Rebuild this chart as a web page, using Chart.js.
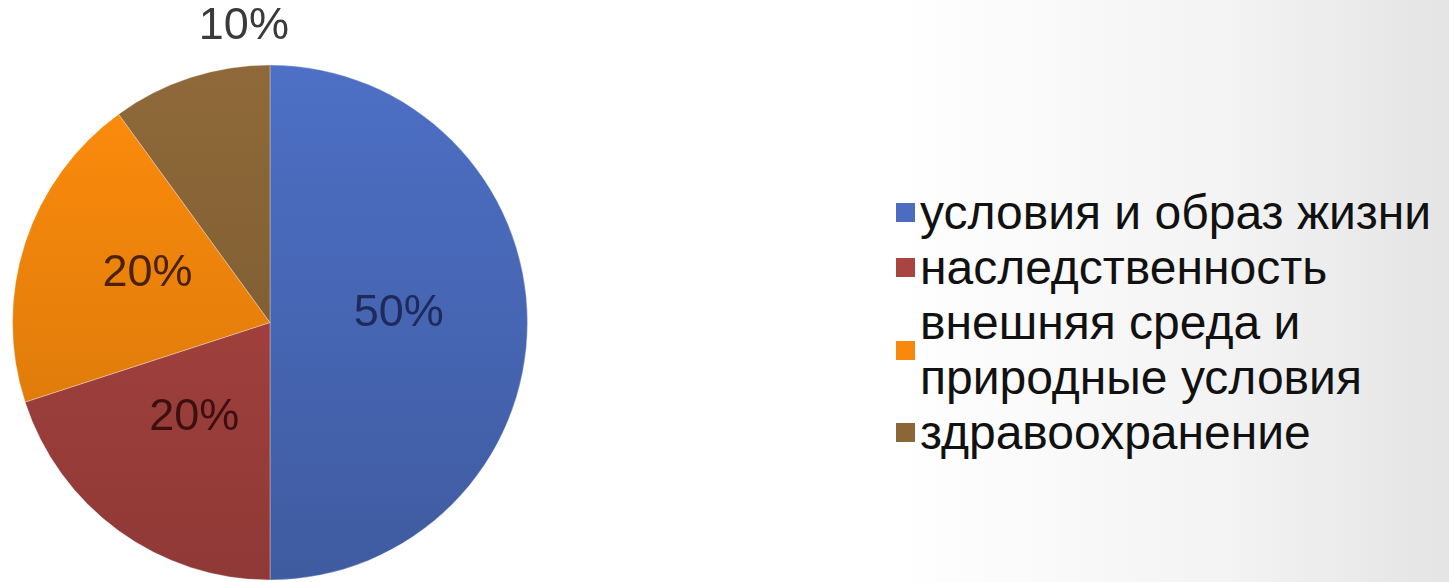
<!DOCTYPE html>
<html>
<head>
<meta charset="utf-8">
<script src="https://cdn.jsdelivr.net/npm/chart.js@4"></script>
<style>
  html, body { margin: 0; padding: 0; }
  body {
    width: 1449px; height: 582px; overflow: hidden; position: relative;
    background: linear-gradient(to right, #ffffff 0%, #ffffff 62%, #f3f3f3 85%, #e4e4e4 100%);
    font-family: 'Liberation Sans', Arial, sans-serif;
  }
  #pieWrap { position: absolute; left: 0; top: 0; width: 540px; height: 582px; }
  #legend { position: absolute; left: 896px; top: 185px; margin: 0; padding: 0; list-style: none; }
  #legend li { display: flex; align-items: center; }
  #legend .box { width: 19px; height: 19px; margin-right: 5px; flex: none; }
  #legend .txt { font-size: 48px; line-height: 55px; color: #111; width: 540px; }
</style>
</head>
<body>
<div id="pieWrap"><canvas id="pie" width="540" height="582"></canvas></div>
<ul id="legend"></ul>
<script>
        // Data
        const categories = ['условия и образ жизни', 'наследственность', 'внешняя среда и природные условия', 'здравоохранение'];
        const shares = [50, 20, 20, 10];
        const sliceColors = ['#4b6cbf', '#aa4440', '#f8890c', '#8b6637'];
        const labelColors = ['#1e2b5a', '#3c1010', '#4a2200', '#3a3a3a'];

        // slightly darker toward the bottom, like the original shading
        const shade = (hex, k) => {
            const n = parseInt(hex.slice(1), 16);
            const r = Math.round(((n >> 16) & 255) * k);
            const g = Math.round(((n >> 8) & 255) * k);
            const b = Math.round((n & 255) * k);
            return `rgb(${r},${g},${b})`;
        };
        const sliceFill = (context) => {
            const chart = context.chart;
            const area = chart.chartArea;
            const base = sliceColors[context.dataIndex];
            if (!area) return base;
            const g = chart.ctx.createLinearGradient(0, area.top, 0, area.bottom);
            g.addColorStop(0, shade(base, 1.03));
            g.addColorStop(1, shade(base, 0.84));
            return g;
        };

        // Percent labels drawn on / beside each slice
        const percentLabels = {
            id: 'percentLabels',
            afterDatasetsDraw(chart) {
                const ctx = chart.ctx;
                const meta = chart.getDatasetMeta(0);
                ctx.save();
                ctx.font = '45px "Liberation Sans", Arial, sans-serif';
                ctx.textAlign = 'center';
                ctx.textBaseline = 'middle';
                meta.data.forEach((arc, i) => {
                    const value = shares[i];
                    let x, y;
                    if (value >= 15) {
                        const p = arc.tooltipPosition();
                        x = p.x;
                        y = p.y - 9;
                    } else {
                        // small slice: label outside, near the end of the arc
                        const a = arc.endAngle - 0.14 * (arc.endAngle - arc.startAngle);
                        const d = arc.outerRadius * 1.155;
                        x = arc.x + d * Math.cos(a);
                        y = arc.y + d * Math.sin(a);
                    }
                    ctx.fillStyle = labelColors[i];
                    ctx.fillText(value + '%', x, y);
                });
                ctx.restore();
            }
        };

        const chart = new Chart(document.getElementById('pie'), {
            type: 'pie',
            data: {
                labels: categories,
                datasets: [{
                    data: shares,
                    backgroundColor: sliceFill,
                    borderColor: 'rgba(255,255,255,0.3)',
                    borderWidth: 1
                }]
            },
            options: {
                responsive: false,
                devicePixelRatio: 1,
                animation: false,
                layout: { padding: { top: 63, left: 12, right: 12, bottom: 0 } },
                plugins: {
                    legend: { display: false },
                    tooltip: { enabled: false }
                }
            },
            plugins: [percentLabels]
        });

        // HTML legend from the category and colour arrays
        const legendEl = document.getElementById('legend');
        categories.forEach((name, i) => {
            const li = document.createElement('li');
            const box = document.createElement('span');
            box.className = 'box';
            box.style.background = sliceColors[i];
            const txt = document.createElement('span');
            txt.className = 'txt';
            txt.textContent = name;
            li.appendChild(box);
            li.appendChild(txt);
            legendEl.appendChild(li);
        });
</script>
</body>
</html>
